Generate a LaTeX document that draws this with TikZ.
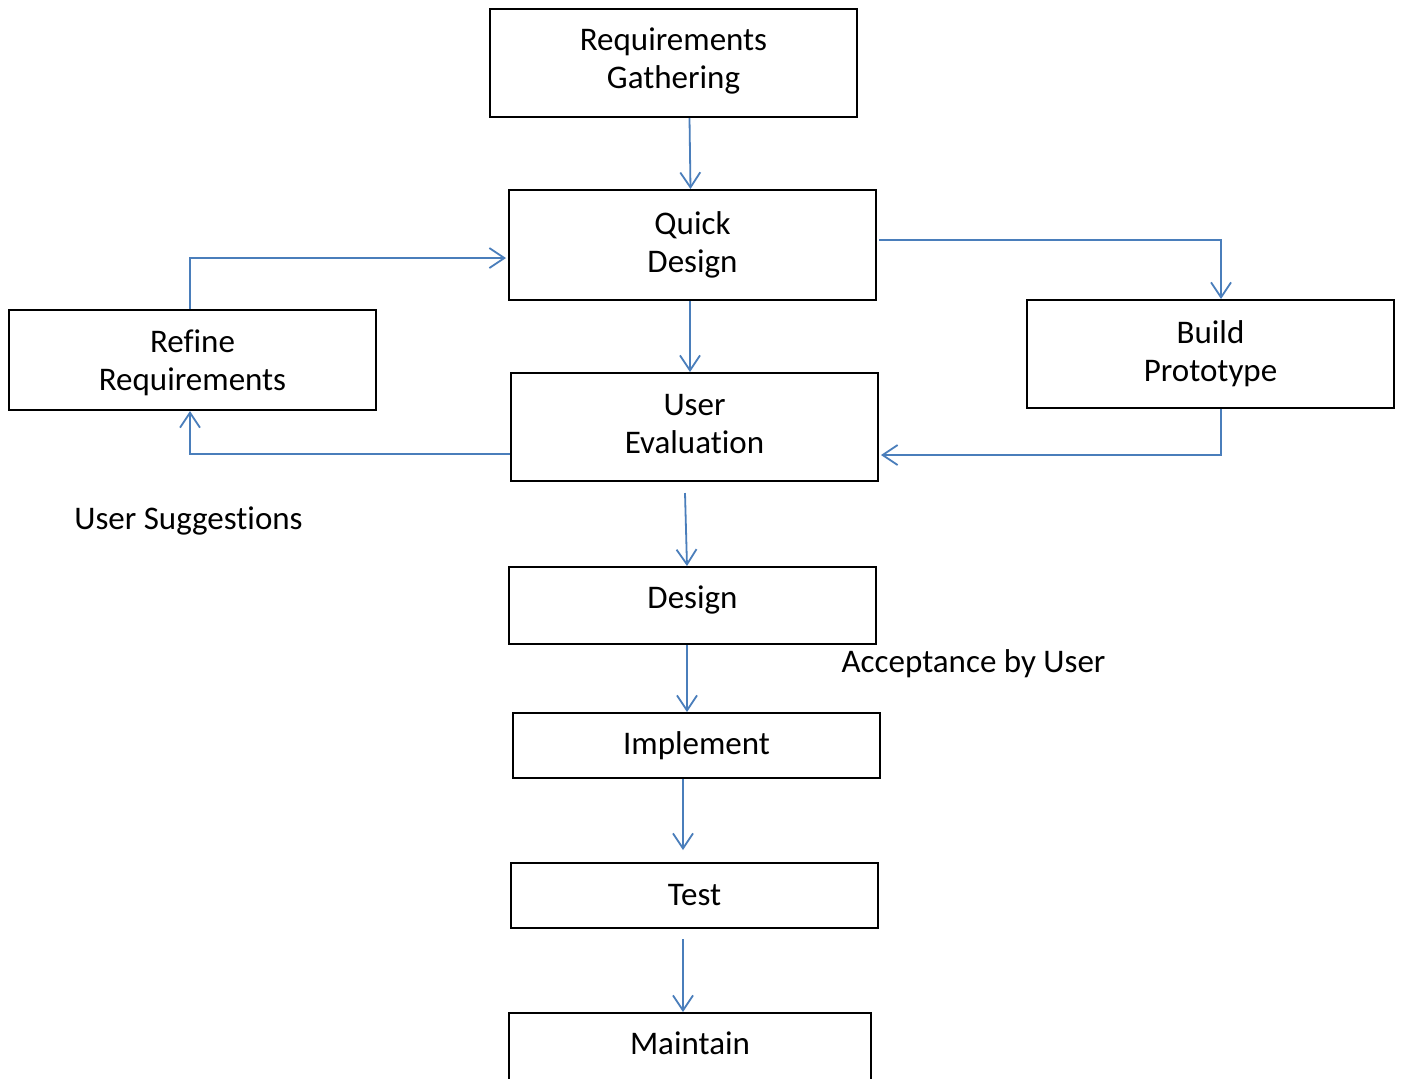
\documentclass[tikz,border=0pt]{standalone}
\usepackage{fontspec}
\setmainfont{Carlito}[Ligatures=NoCommon]
\usetikzlibrary{arrows.meta}
\definecolor{lineblue}{RGB}{74,126,187}
\newcommand{\extdepth}[2]{\raisebox{0pt}[\height][\dimexpr\depth+#1\relax]{#2}}
\newcommand{\extheight}[2]{\raisebox{0pt}[\dimexpr\height+#1\relax][\depth]{#2}}
\begin{document}
\begin{tikzpicture}[x=0.5pt,y=-0.5pt,
  box/.style={draw=black,line width=1pt,inner sep=0pt,minimum width=183.5pt,align=center,font=\fontsize{16.5}{19}\selectfont},
  lbl/.style={inner sep=0pt,font=\fontsize{16.5}{19}\selectfont},
  arr/.style={draw=lineblue,line width=0.9pt,-{Straight Barb[length=7.5pt,width=10pt,line width=0.9pt]}}]
\useasboundingbox (0,0) rectangle (1403,1078);
\fill[white] (0,0) rectangle (1403,1078);
\node[box,minimum height=54pt] (RG) at (673.5,63) {Requirements\\\extdepth{2pt}{Gathering}};
\node[box,minimum height=55pt] (QD) at (692.5,245) {Quick\\Design};
\node[box,minimum height=50pt] (RR) at (192.5,360) {\extheight{3pt}{Refine}\\Requirements};
\node[box,minimum height=54pt] (BP) at (1210.5,354) {Build\\Prototype};
\node[box,minimum height=54pt] (UE) at (694.5,427) {User\\\extdepth{2.5pt}{Evaluation}};
\node[box,minimum height=38.5pt] (DS) at (692.5,605.5) {\extdepth{6pt}{Design}};
\node[box,minimum height=32.5pt] (IM) at (696.5,745.5) {Implement};
\node[box,minimum height=32.5pt] (TE) at (694.5,895.5) {Test};
\node[box,minimum height=33.5pt,minimum width=181pt] (MA) at (690,1046.5) {\extdepth{3pt}{Maintain}};
\node[lbl] (US) at (188.5,521) {User Suggestions};
\node[lbl] (AU) at (973.5,664) {Acceptance by User};
\coordinate (BPt) at ([xshift=5.25pt]BP.north);
\coordinate (BPb) at ([xshift=5.25pt]BP.south);
\coordinate (QDe) at ([xshift=1pt,yshift=2.5pt]QD.east);
\draw[arr] ([xshift=-1.5pt]RG.south -| QD.north) -- ([xshift=-1pt]QD.north);
\draw[arr] ([xshift=-1.25pt]QD.south) -- ([xshift=-1.25pt]QD.south |- UE.north);
\draw[arr] (QDe) -- (QDe -| BPt) -- (BPt);
\draw[arr] ([xshift=-1.25pt]RR.north) |- ([xshift=-1pt,yshift=-6.5pt]QD.west);
\draw[arr] ([yshift=-13.5pt]UE.west) -| ([xshift=-1.25pt]RR.south);
\draw[arr] (BPb) |- ([xshift=1pt,yshift=-14pt]UE.east);
\draw[arr] ([xshift=-4.75pt,yshift=-5.5pt]UE.south) -- ([xshift=-2.75pt]DS.north);
\draw[arr] ([xshift=-2.75pt]DS.south) -- ([xshift=-2.75pt]DS.south |- IM.north);
\draw[arr] ([xshift=-6.75pt]IM.south) -- ([xshift=-5.75pt,yshift=6pt]TE.north);
\draw[arr] ([xshift=-5.75pt,yshift=-5pt]TE.south) -- ([xshift=-3.5pt]MA.north);
\end{tikzpicture}
\end{document}
